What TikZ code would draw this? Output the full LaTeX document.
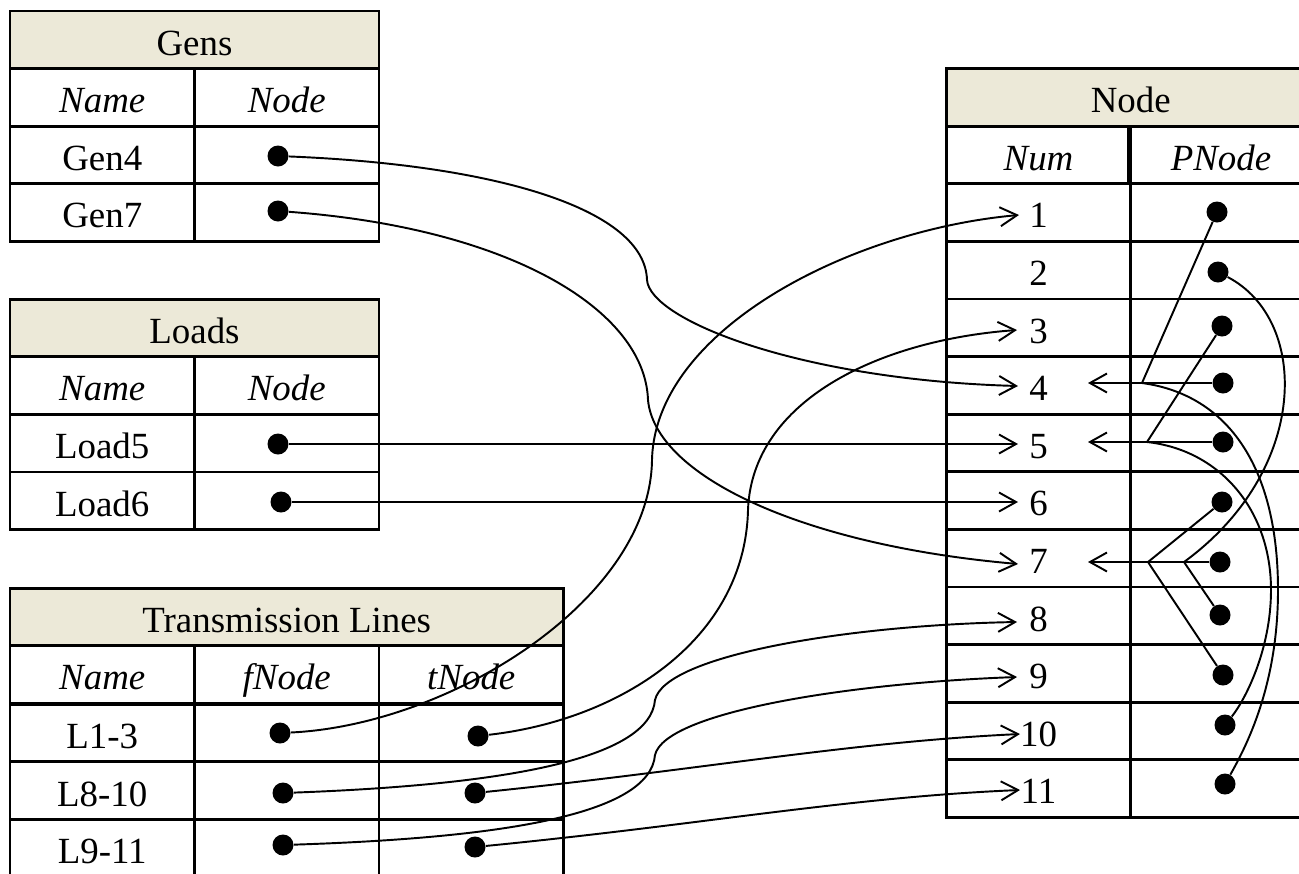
\documentclass[tikz,border=0pt]{standalone}
\usepackage{fontspec}
\setmainfont{Liberation Serif}
\usetikzlibrary{arrows.meta}
\definecolor{headfill}{HTML}{ECE9D8}
\tikzstyle{cell} = [rectangle, 
minimum width=3.69cm, 
minimum height=1.152cm, 
inner sep=0pt, 
text centered, 
text height=17.5pt, 
text depth=0pt, 
draw=black, 
line width=1.5pt, 
font=\fontsize{21}{25}\selectfont]
\tikzstyle{head} = [cell, fill=headfill]
\tikzstyle{colname} = [cell, font=\fontsize{21}{25}\selectfont\itshape]
\tikzstyle{dot} = [circle, fill=black, minimum size=0.42cm, inner sep=0pt]
\tikzstyle{wire} = [line width=1.1pt]
\tikzstyle{arrow} = [wire, -{Straight Barb[length=0.34cm,width=0.38cm]}]

\begin{document}
\begin{tikzpicture}[x=0.02cm, y=-0.02cm]
    \useasboundingbox (0,0) rectangle (1299,873);

    % Gens table
    \node (gh) [head, minimum width=7.38cm] at (194.5,39.8) {Gens};
    \node (gc1) [colname] at (102.25,97.4) {Name};
    \node (gc2) [colname] at (286.75,97.4) {Node};
    \node (gr1) [cell] at (102.25,155) {Gen4};
    \node (gr1n) [cell] at (286.75,155) {};
    \node (gr2) [cell] at (102.25,212.6) {Gen7};
    \node (gr2n) [cell] at (286.75,212.6) {};

    % Loads table
    \node (lh) [head, minimum width=7.38cm] at (194.5,328) {Loads};
    \node (lc1) [colname] at (102.25,385.6) {Name};
    \node (lc2) [colname] at (286.75,385.6) {Node};
    \node (lr1) [cell] at (102.25,443.2) {Load5};
    \node (lr1n) [cell] at (286.75,443.2) {};
    \node (lr2) [cell] at (102.25,500.8) {Load6};
    \node (lr2n) [cell] at (286.75,500.8) {};

    % Transmission lines table
    \node (th) [head, minimum width=11.07cm] at (286.75,617) {Transmission Lines};
    \node (tc1) [colname] at (102.25,674.6) {Name};
    \node (tc2) [colname] at (286.75,674.6) {fNode};
    \node (tc3) [colname] at (471.25,674.6) {tNode};
    \foreach \n/\t [count=\k] in {733/L1-3, 790.8/L8-10, 848.4/L9-11} {
        \node (tr\k) [cell] at (102.25,\n) {\t};
        \node (tr\k f) [cell] at (286.75,\n) {};
        \node (tr\k t) [cell] at (471.25,\n) {};
    }

    % Node table
    \node (nh) [head, minimum width=7.38cm] at (1130.75,97.4) {Node};
    \node (nc1) [colname] at (1038.5,155) {Num};
    \node (nc2) [colname] at (1221,155) {PNode};
    \foreach \i in {1,...,11} {
        \node (num\i) [cell] at (1038.5,{155+57.6*\i}) {\i};
        \node (pn\i) [cell] at (1223,{155+57.6*\i}) {};
    }

    % dots
    \node (g4) [dot] at (278,156) {};
    \node (g7) [dot] at (278,211) {};
    \node (ld5) [dot] at (278,444) {};
    \node (ld6) [dot] at (281,502) {};
    \node (f13) [dot] at (280,733) {};
    \node (t13) [dot] at (478,736) {};
    \node (f810) [dot] at (283,793) {};
    \node (t810) [dot] at (475,793) {};
    \node (f911) [dot] at (283,845) {};
    \node (t911) [dot] at (475,847) {};
    \foreach \i/\px/\py in {1/1217/212, 2/1218/272, 3/1222/326, 4/1223/383,
        5/1223/442, 6/1222/502, 7/1220/562, 8/1220/615, 9/1223/675,
        10/1225/725, 11/1225/784}
        \node (p\i) [dot] at (\px,\py) {};

    % arrow ends
    \coordinate (in1) at (1019,215);
    \coordinate (in3) at (1017,330);
    \coordinate (in4) at (1018,386);
    \coordinate (in5) at (1018,444);
    \coordinate (in6) at (1018,502);
    \coordinate (in7) at (1018,564);
    \coordinate (in8) at (1017,622);
    \coordinate (in9) at (1017,677);
    \coordinate (in10) at (1020,734);
    \coordinate (in11) at (1020,790);
    \coordinate (out4) at (1088,383);
    \coordinate (out5) at (1088,442);
    \coordinate (out7) at (1088,562);
    \coordinate (j4) at (1142,383);
    \coordinate (j5) at (1147,442);
    \coordinate (j7a) at (1148,562);
    \coordinate (j7b) at (1184,562);

    % Gens and loads
    \draw [arrow] (g4) .. controls (500,165) and (645,210) .. (647,280)
        .. controls (650,320) and (800,380) .. (in4);
    \draw [arrow] (g7) .. controls (510,228) and (645,310) .. (648,400)
        .. controls (655,475) and (800,545) .. (in7);
    \draw [arrow] (ld5) -- (in5);
    \draw [arrow] (ld6) -- (in6);

    % Lines
    \draw [arrow] (f13) .. controls (450,725) and (650,600) .. (652,460)
        .. controls (655,330) and (850,230) .. (in1);
    \draw [arrow] (t13) .. controls (620,720) and (745,640) .. (748,510)
        .. controls (752,400) and (880,340) .. (in3);
    \draw [arrow] (f810) .. controls (500,785) and (650,760) .. (655,700)
        .. controls (665,655) and (850,625) .. (in8);
    \draw [arrow] (f911) .. controls (500,838) and (650,815) .. (655,755)
        .. controls (665,712) and (850,683) .. (in9);
    \draw [arrow] (t810) .. controls (700,770) and (850,742) .. (in10);
    \draw [arrow] (t911) .. controls (700,825) and (850,797) .. (in11);

    % PNode pointers
    \draw [arrow] (p4) -- (out4);
    \draw [arrow] (p5) -- (out5);
    \draw [arrow] (p7) -- (out7);
    \draw [wire] (p1) -- (j4);
    \draw [wire] (p3) -- (j5);
    \draw [wire] (p6) -- (j7a);
    \draw [wire] (p9) -- (j7a);
    \draw [wire] (p8) -- (j7b);
    \draw [wire] (p2) .. controls (1310,320) and (1310,470) .. (j7b);
    \draw [wire] (j4) .. controls (1230,395) and (1278,470) .. (1278,590)
        .. controls (1278,680) and (1250,740) .. (p11);
    \draw [wire] (j5) .. controls (1220,450) and (1271,510) .. (1271,590)
        .. controls (1271,650) and (1245,700) .. (p10);
\end{tikzpicture}
\end{document}
